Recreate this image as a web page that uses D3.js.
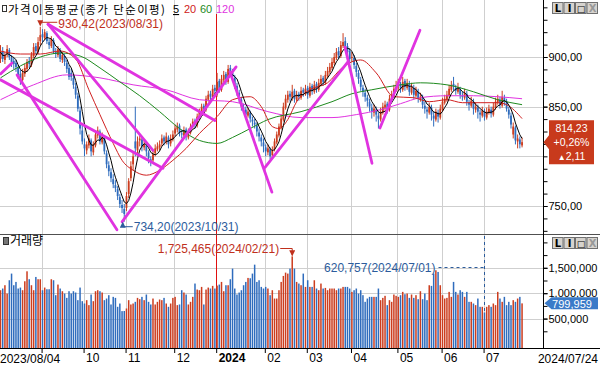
<!DOCTYPE html>
<html><head><meta charset="utf-8">
<script src="https://cdn.jsdelivr.net/npm/d3@7"></script>
<style>body{margin:0;background:#fff;} svg{display:block;}</style>
</head><body><svg id="c" width="600" height="366"></svg>
<script>
// ---------- DATA ----------
// daily candles [open, high, low, close], 2023/08/04 .. 2024/07/24
const candles = [
// Aug 2023
[898,912,894,905],[906,910,895,898],[897,905,893,902],[903,912,900,908],[907,909,897,900],
[899,902,890,895],[896,899,888,893],[894,897,885,890],[889,892,878,882],[883,887,872,878],
[877,888,875,884],[883,893,880,889],[888,898,885,895],[896,900,889,893],[892,905,890,902],
[901,914,899,910],[911,914,903,906],[905,920,903,915],[916,930.42,912,922],
// Sep
[923,928,915,920],[919,928,917,925],[924,926,913,916],[915,918,908,912],[911,921,909,918],
[917,919,903,906],[905,909,899,903],[902,911,900,908],[907,909,895,898],[897,905,894,902],
[901,903,891,895],[894,897,884,888],[889,892,877,880],[884,888,876,880],[879,882,868,872],
[870,874,858,862],[861,864,845,848],[846,850,822,828],[826,832,812,815],
// Oct
[812,818,800,808],[806,815,802,812],[811,822,808,818],[816,818,800,805],[804,815,801,812],
[811,826,809,822],[821,830,818,826],[825,827,812,815],[814,824,812,820],[819,821,802,805],
[803,806,788,792],[791,795,780,785],[784,788,774,778],[777,782,768,772],[771,776,764,768],
[767,770,756,760],[759,762,748,752],[751,756,743,748],[747,752,734.2,742],
// Nov
[748,764,745,760],[762,778,758,775],[778,795,775,790],[792,805,786,800],[815,850,800,808],
[806,820,803,815],[816,822,810,818],[817,819,805,810],[809,816,806,812],[811,813,800,805],
[804,806,793,798],[797,800,790,795],[796,806,794,802],[803,812,800,808],[807,814,805,810],
[809,816,806,812],[813,822,810,818],[819,821,811,815],[814,824,812,820],[819,821,808,812],
[813,822,810,818],[817,826,815,822],
// Dec
[823,832,820,828],[827,834,824,830],[831,833,820,824],[823,827,818,822],[821,830,819,826],
[827,829,816,820],[819,828,817,825],[824,833,822,830],[831,838,828,835],[836,838,828,832],
[831,843,829,840],[839,848,837,845],[846,853,843,850],[851,853,844,848],[847,861,845,858],
[857,866,855,862],[863,866,856,860],[859,872,857,868],[869,872,862,866],
// Jan 2024
[862,884,860,875],[876,878,864,868],[867,882,865,878],[877,886,874,882],[883,885,872,876],
[875,892,873,888],[889,892,881,885],[884,888,876,880],[879,882,868,872],[871,874,861,865],
[864,867,854,858],[857,860,846,850],[849,853,844,848],[847,850,838,842],[841,849,839,845],
[844,846,834,838],[837,840,830,835],[834,838,828,832],[831,834,820,825],[824,828,815,820],
[819,822,810,815],[814,818,804,810],
// Feb
[809,812,800,805],[804,812,801,808],[807,809,797,800],[801,810,799,806],[807,818,805,815],
[814,825,812,822],[821,833,819,830],[829,842,827,838],[837,854,835,850],[849,862,847,858],
[857,866,854,862],[863,866,855,860],[859,872,856,865],[866,868,854,858],[857,866,855,862],
[863,865,856,860],[859,870,857,866],[867,869,860,864],[863,872,861,868],
// Mar
[869,871,858,862],[861,874,859,870],[871,873,862,866],[865,876,863,872],[873,875,864,868],
[867,878,865,874],[873,882,871,878],[879,881,871,875],[874,886,872,882],[881,890,879,886],
[885,894,883,890],[889,899,887,895],[894,904,892,900],[899,909,897,905],[906,910,898,902],
[901,916,899,912],[911,924,909,915],[916,920,906,910],[911,914,900,905],[906,909,894,898],
// Apr
[899,905,895,900],[899,902,888,892],[891,894,880,885],[884,887,873,878],[877,880,866,870],
[869,872,860,865],[864,868,855,860],[859,862,850,856],[855,858,845,850],[849,853,838,845],
[844,852,840,848],[847,850,835,842],[841,844,828,838],[837,849,835,845],[844,854,842,850],
[849,856,846,852],[853,855,843,848],[847,862,845,858],[857,866,855,862],[861,872,859,868],
[867,876,865,870],
// May
[871,878,866,872],[873,875,864,868],[867,880,865,875],[876,878,866,870],[869,878,867,874],
[873,876,861,865],[864,874,862,870],[869,872,858,862],[861,870,859,866],[865,868,854,858],
[857,864,855,860],[859,862,848,852],[851,855,843,848],[847,850,838,845],[844,854,842,850],
[849,852,836,842],[841,845,830,838],[837,848,835,845],[844,847,834,840],[839,852,837,848],
// Jun
[847,859,845,855],[854,862,852,858],[857,866,855,862],[861,872,859,868],[867,876,865,872],
[873,880,866,870],[869,872,862,866],[865,874,863,868],[867,870,858,862],[861,865,856,860],
[859,868,857,864],[863,866,851,855],[854,857,846,852],[851,860,849,856],[855,858,842,848],
[847,854,844,850],[849,852,838,845],[844,847,835,842],[841,850,839,846],
// Jul
[845,848,836,840],[839,849,837,845],[844,852,842,848],[847,850,839,843],[842,854,840,850],
[849,859,847,855],[854,862,852,858],[857,860,848,852],[851,866,849,860],[859,862,851,856],
[855,858,845,848],[847,850,838,842],[841,844,828,832],[822,834,818,830],[829,831,812,816],
[815,822,808,818],[817,820,808,812.12],[811,819,809,814.23]
];

// daily volume, thousands of shares
const volumesK = [
1059,1092,1157,993,1255,1386,1157,1222,1092,1111,
1059,1235,1431,1275,1157,1059,1320,1275,1275,1059,
1111,1078,1078,1275,1255,961,1170,1092,1039,993,
908,1039,993,1039,1013,863,1111,843,797,863,
765,974,843,1039,1059,1039,1013,863,895,961,
778,928,908,732,797,647,650,699,863,778,
797,830,908,882,928,863,974,830,778,895,
778,830,876,863,908,797,732,797,908,928,
765,778,1059,1013,974,778,830,928,1190,1072,
1059,1124,778,1072,1111,1092,1144,1092,
1150,1170,1222,1039,1157,1157,1275,1484,1092,974,1013,1059,1157,1222,1301,1294,1386,1562,1222,1255,1124,1092,1124,1092,
961,1059,895,895,1059,1222,1340,1405,1386,1484,
1725.465,1484,1222,1190,1157,1386,1124,1255,1124,1124,
1255,1092,1059,1190,1092,1104,1059,1092,1092,1092,
1059,1092,1092,1124,1124,1124,1092,1026,1059,1092,
993,1059,961,830,895,928,928,928,928,1092,
863,908,948,765,863,830,974,948,928,961,
1026,980,993,908,974,908,961,882,1039,882,
993,863,1157,1144,1386,1451,1418,1157,961,895,
908,1026,928,1222,1026,974,1059,1026,928,1026,
830,830,797,765,895,732,732,620.757,732,765,
732,797,765,1026,895,830,928,765,830,765,
863,830,895,928,799.959
];

// moving averages: [day index, value]
const ma20Pts = [[0,906],[9,903],[18,903],[27,906],[34,898],[40,867],[45,842],[51,813],[55,796],[60,786],[66,781],[72,786],[78,796],[84,808],[90,823],[98,840],[105,857],[113,860],[118,850],[123,830],[126,828],[130,837],[134,855],[140,867],[148,874],[155,890],[163,897],[170,884],[178,860],[187,859],[194,855],[202,857],[209,854],[217,854],[225,854],[229,852],[236,838]];
const ma60Pts = [[0,879],[9,891],[18,900],[27,904],[36,901],[45,889],[54,875],[63,861],[72,845],[81,828],[90,816],[98,813],[105,819],[113,828],[121,837],[136,845],[150,855],[159,863],[168,867],[181,872],[190,874],[202,872],[214,865],[225,857],[236,852]];
const ma120Pts = [[0,857],[15,872],[30,882],[45,879],[60,872],[75,867],[90,857],[105,855],[121,845],[136,839],[150,839],[161,842],[172,847],[181,853],[190,859],[202,861],[214,861],[225,860],[236,858]];

// user-drawn trend lines [idx1, price1, idx2, price2]
const trendLines = [
[0,877,73.5,788],[0,883,5.2,894],[7.5,882,52.7,726],[21.5,933,69,806],[21.5,933,97,836],
[55,734,106.6,890],[103.8,885,122.8,764],[119.7,789,157.2,895],[155.9,910,168.1,793],[171.7,828.5,189.8,927]
];

const monthTickIdx = [19,38,57,79,98,120,139,159,180,200,219];
const monthTickLabels = ["","10","11","12","2024","02","03","04","05","06","07"];
const firstDateLabel = "2023/08/04", lastDateLabel = "2024/07/24";
const priceTicks = [750,800,850,900];
const volTicks = [500000,1000000,1500000];
const maPeriods = ["5","20","60","120"];
const lastClose = 814.23, changePct = "+0,26%", changeSign = "▲", changeAbs = "2,11";
const highInfo = {idx:18, value:930.42, label:"930,42(2023/08/31)"};
const lowInfo = {idx:56, value:734.20, label:"734,20(2023/10/31)"};
const volMaxInfo = {idx:132, value:1725465, label:"1,725,465(2024/02/21)"};
const volMinInfo = {idx:219, value:620757, label:"620,757(2024/07/01)"};
const lastVol = 799959;

// ---------- DRAW ----------
const svg = d3.select("#c");
const UP = "#cc3d1f", DN = "#2f6cbd", MAG = "#e033e0";
const maColors = ["#000","#d02020","#1e8a1e",MAG];
const axX = 543.5, pBot = 234, vBot = 348;
const x = d3.scaleLinear().domain([0, candles.length-1]).range([0.5, 0.5+2.21*(candles.length-1)]);
const yP = d3.scaleLinear().domain([750, 900]).range([206, 57]);
const yV = d3.scaleLinear().domain([0, 1500000]).range([344, 267.8]);
const gx = i => Math.round(x(i) - 0.9) + 0.5;

const defs = svg.append("defs");
defs.append("clipPath").attr("id","cp").append("rect").attr("x",0).attr("y",0).attr("width",axX).attr("height",pBot);
defs.append("clipPath").attr("id","cv").append("rect").attr("x",0).attr("y",pBot).attr("width",axX).attr("height",vBot-pBot);
defs.append("marker").attr("id","arrR").attr("viewBox","0 0 6 6").attr("refX",5).attr("refY",3).attr("markerWidth",6).attr("markerHeight",6).attr("orient","auto")
  .append("path").attr("d","M0,0L6,3L0,6Z").attr("fill","#c0301c");
defs.append("marker").attr("id","arrB").attr("viewBox","0 0 6 6").attr("refX",5).attr("refY",3).attr("markerWidth",6).attr("markerHeight",6).attr("orient","auto")
  .append("path").attr("d","M0,0L6,3L0,6Z").attr("fill","#2c5c9c");

// grid
const grid = svg.append("g").attr("stroke","#cfcfcf").attr("stroke-width",1);
monthTickIdx.forEach(i => grid.append("line").attr("x1",gx(i)).attr("x2",gx(i)).attr("y1",0).attr("y2",vBot));
priceTicks.forEach(v => grid.append("line").attr("x1",0).attr("x2",axX).attr("y1",Math.round(yP(v))+0.5).attr("y2",Math.round(yP(v))+0.5));
volTicks.forEach(v => grid.append("line").attr("x1",0).attr("x2",axX).attr("y1",Math.round(yV(v))+0.5).attr("y2",Math.round(yV(v))+0.5));

// year divider
svg.append("line").attr("x1",gx(98)).attr("x2",gx(98)).attr("y1",14).attr("y2",vBot).attr("stroke","#e01010").attr("stroke-width",1);

// candles
const gP = svg.append("g").attr("clip-path","url(#cp)");
const gc = gP.append("g");
candles.forEach((d,i) => {
  const [o,h,l,c] = d; const col = c >= o ? UP : DN;
  gc.append("line").attr("x1",x(i)).attr("x2",x(i)).attr("y1",yP(h)).attr("y2",yP(l)).attr("stroke",col).attr("stroke-width",1);
  const top = yP(Math.max(o,c)), bh = Math.max(1, Math.abs(yP(o)-yP(c)));
  gc.append("rect").attr("x",x(i)-0.9).attr("y",top).attr("width",1.8).attr("height",bh).attr("fill",col);
});

// moving averages
const closes = candles.map(d => d[3]);
const ma5 = closes.map((c,i) => d3.mean(closes.slice(Math.max(0,i-4), i+1)));
const lineIdx = d3.line().x((d,i)=>x(i)).y(d=>yP(d));
const linePts = d3.line().x(d=>x(d[0])).y(d=>yP(d[1])).curve(d3.curveMonotoneX);
gP.append("path").attr("d",linePts(ma120Pts)).attr("fill","none").attr("stroke",maColors[3]).attr("stroke-width",1);
gP.append("path").attr("d",linePts(ma60Pts)).attr("fill","none").attr("stroke",maColors[2]).attr("stroke-width",1);
gP.append("path").attr("d",linePts(ma20Pts)).attr("fill","none").attr("stroke",maColors[1]).attr("stroke-width",1);
gP.append("path").attr("d",lineIdx(ma5)).attr("fill","none").attr("stroke",maColors[0]).attr("stroke-width",1);

// trend lines
trendLines.forEach(t => gP.append("line").attr("x1",x(t[0])).attr("y1",yP(t[1])).attr("x2",x(t[2])).attr("y2",yP(t[3]))
  .attr("stroke",MAG).attr("stroke-width",2.8).attr("stroke-linecap","round"));

// volume bars
const gV = svg.append("g").attr("clip-path","url(#cv)");
volumesK.forEach((v,i) => {
  const d = candles[i]; const col = d[3] >= d[0] ? UP : DN;
  const y0 = yV(v*1000);
  gV.append("rect").attr("x",x(i)-0.75).attr("y",y0).attr("width",1.5).attr("height",vBot-y0).attr("fill",col);
});

// frame lines
svg.append("line").attr("x1",0).attr("x2",600).attr("y1",pBot+0.5).attr("y2",pBot+0.5).attr("stroke","#505050");
svg.append("line").attr("x1",0).attr("x2",600).attr("y1",vBot+0.5).attr("y2",vBot+0.5).attr("stroke","#000");
svg.append("line").attr("x1",axX).attr("x2",axX).attr("y1",0).attr("y2",vBot).attr("stroke","#000");

// price axis (the 800 label is hidden under the last-price box, as in the source)
const fmtP = v => d3.format(".2f")(v).replace(".",",");
const minorP = d3.range(725, 957, 12.5);
const pax = svg.append("g").attr("transform",`translate(${axX},0)`);
pax.call(d3.axisRight(yP).tickValues(minorP).tickSize(4).tickFormat(""));
pax.append("g").call(d3.axisRight(yP).tickValues(priceTicks.filter(v=>Math.abs(yP(v)-yP(lastClose))>24)).tickSize(4).tickPadding(1).tickFormat(fmtP));
pax.selectAll(".domain").remove();
pax.selectAll("text").attr("font-family","Liberation Sans, Arial, sans-serif").attr("font-size",11).attr("fill","#000");
pax.selectAll("line").attr("stroke","#000");

// volume axis
const vax = svg.append("g").attr("transform",`translate(${axX},0)`);
vax.call(d3.axisRight(yV).tickValues(d3.range(250000, 2000001, 250000)).tickSize(4).tickFormat(""));
vax.append("g").call(d3.axisRight(yV).tickValues(volTicks).tickSize(4).tickPadding(1).tickFormat(d3.format(",")));
vax.selectAll(".domain").remove();
vax.selectAll("text").attr("font-family","Liberation Sans, Arial, sans-serif").attr("font-size",11).attr("fill","#000");
vax.selectAll("line").attr("stroke","#000");

// x axis
const xt = d3.scaleLinear().domain(x.domain()).range(x.range().map(r=>r-0.9));
const xax = svg.append("g").attr("transform",`translate(0,${vBot})`);
xax.call(d3.axisBottom(xt).tickValues(monthTickIdx).tickSize(5).tickFormat((d,k)=>monthTickLabels[k]));
xax.selectAll(".domain").remove();
xax.selectAll("line").attr("stroke","#000");
xax.selectAll("text").attr("text-anchor","start").attr("dx",2).attr("y",4).attr("dy","0.85em")
  .attr("font-family","Liberation Sans, Arial, sans-serif").attr("font-size",12).attr("fill","#000")
  .attr("font-weight",(d,k)=>monthTickLabels[k]==="2024"?"bold":"normal");
svg.append("text").attr("x",0).attr("y",363).text(firstDateLabel).attr("font-family","Liberation Sans, Arial, sans-serif").attr("font-size",12);
svg.append("text").attr("x",598).attr("y",363).attr("text-anchor","end").text(lastDateLabel).attr("font-family","Liberation Sans, Arial, sans-serif").attr("font-size",12);

// headers
const KR = "'Noto Sans CJK KR', sans-serif";
svg.append("rect").attr("x",2.5).attr("y",5.5).attr("width",4).attr("height",6).attr("fill","#fff").attr("stroke","#333");
svg.append("text").attr("x",8).attr("y",13.5).attr("font-family",KR).attr("font-size",11.5).attr("textLength",157).attr("fill","#000").text("가격이동평균(종가 단순이평)");
const maLabelX = [173,184,200,216];
maPeriods.forEach((t,k) => {
  const tx = svg.append("text").attr("x",maLabelX[k]).attr("y",13).attr("font-family","Liberation Sans, Arial, sans-serif").attr("font-size",11).attr("fill",maColors[k]).text(t);
  if (k===0) tx.attr("text-decoration","underline");
});
svg.append("rect").attr("x",3.5).attr("y",237.5).attr("width",5).attr("height",7).attr("fill","#777").attr("stroke","#333");
svg.append("text").attr("x",10).attr("y",245).attr("font-family",KR).attr("font-size",12).text("거래량");

// buttons
function buttons(y0){
  ["L","I","□","X"].forEach((t,k)=>{
    const bx = 552 + k*11.5;
    svg.append("rect").attr("x",bx+0.5).attr("y",y0+0.5).attr("width",10.5).attr("height",11).attr("fill","#d6d3ce").attr("stroke","#707070");
    svg.append("text").attr("x",bx+6).attr("y",y0+10).attr("text-anchor","middle").attr("font-family","DejaVu Sans, sans-serif")
      .attr("font-size",t==="□"?9:10).attr("font-weight","bold").attr("fill",t==="X"?"#999":"#000").text(t);
  });
}
buttons(2); buttons(237);

// max / min annotations (price)
const AF = "Liberation Sans, Arial, sans-serif";
{
  const hx = x(highInfo.idx), hy = yP(highInfo.value);
  svg.append("path").attr("d",`M${hx+17},${hy-4.5}H${hx}V${hy-1.5}`).attr("fill","none").attr("stroke","#c0301c").attr("marker-end","url(#arrR)");
  svg.append("text").attr("x",hx+18).attr("y",hy+1.5).attr("font-family",AF).attr("font-size",12).attr("fill","#c0301c").text(highInfo.label);
  const lx = x(lowInfo.idx)-1.5, ly = yP(lowInfo.value);
  svg.append("path").attr("d",`M${lx+10},${ly+5}H${lx}V${ly+1}`).attr("fill","none").attr("stroke","#2c5c9c").attr("marker-end","url(#arrB)");
  svg.append("text").attr("x",lx+11).attr("y",ly+9).attr("font-family",AF).attr("font-size",12).attr("fill","#2c5c9c").text(lowInfo.label);
}
// volume annotations
{
  const mx = x(volMaxInfo.idx), my = yV(volMaxInfo.value);
  svg.append("path").attr("d",`M${mx-12},248.5H${mx}V${my-1}`).attr("fill","none").attr("stroke","#c0301c").attr("marker-end","url(#arrR)");
  svg.append("text").attr("x",mx-13).attr("y",253).attr("text-anchor","end").attr("font-family",AF).attr("font-size",12).attr("fill","#c0301c").text(volMaxInfo.label);
  const nx = Math.round(x(volMinInfo.idx))+0.5, ny = yV(volMinInfo.value);
  svg.append("path").attr("d",`M${nx-46},267.5H${nx}`).attr("stroke","#2c5c9c").attr("stroke-dasharray","3,3");
  svg.append("path").attr("d",`M${nx},236V${ny}`).attr("stroke","#2c5c9c").attr("stroke-dasharray","3,3");
  svg.append("text").attr("x",nx-49).attr("y",272).attr("text-anchor","end").attr("font-family",AF).attr("font-size",12).attr("fill","#2c5c9c").text(volMinInfo.label);
}

// last price box
{
  const py = yP(lastClose);
  const bx0 = 549, bx1 = 594, top = py-22, bot = py+22;
  svg.append("path").attr("d",`M${axX},${py}L${bx0},${py-7}V${top}H${bx1}V${bot}H${bx0}V${py+7}Z`).attr("fill","#c83a1c");
  const tc = (bx0+bx1)/2;
  [[fmtP(lastClose),py-10],[changePct,py+3.5]].forEach(([t,yy]) =>
    svg.append("text").attr("x",tc).attr("y",yy).attr("text-anchor","middle").attr("font-family",AF).attr("font-size",10.5).attr("fill","#fff").text(t));
  const t3 = svg.append("text").attr("x",tc).attr("y",py+17.5).attr("text-anchor","middle").attr("font-family",AF).attr("font-size",10.5).attr("fill","#fff");
  t3.append("tspan").attr("font-size",8).text(changeSign);
  t3.append("tspan").text(changeAbs);
  const vy = yV(lastVol);
  svg.append("path").attr("d",`M${axX+1},${vy}L${axX+8},${vy-6}H598V${vy+6}H${axX+8}Z`).attr("fill","#3a7ac8");
  svg.append("text").attr("x",572).attr("y",vy+4.5).attr("text-anchor","middle").attr("font-family",AF).attr("font-size",11).attr("fill","#fff").text(d3.format(",")(lastVol));
}
</script></body></html>
